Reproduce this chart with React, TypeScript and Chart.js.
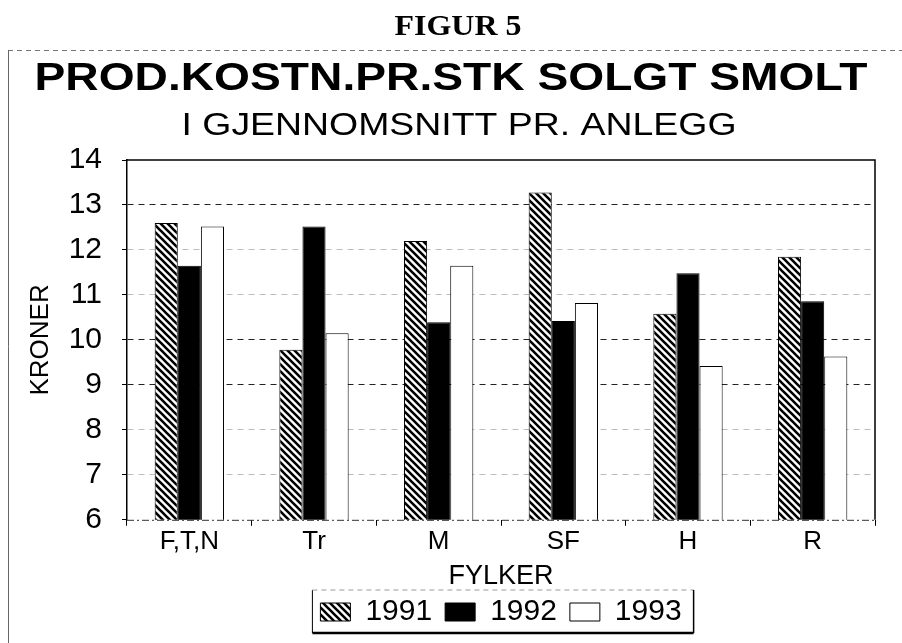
import React, { useEffect, useRef } from "react";
import { Chart, registerables } from "chart.js";

Chart.register(...registerables);

const figureLabel = "FIGUR 5";
const titleText = "PROD.KOSTN.PR.STK SOLGT SMOLT";
const subtitleText = "I GJENNOMSNITT PR. ANLEGG";
const yAxisTitle = "KRONER";
const xAxisTitle = "FYLKER";

const categories = ["F,T,N", "Tr", "M", "SF", "H", "R"];
const seriesNames = ["1991", "1992", "1993"];
const values1991 = [12.6, 9.78, 12.2, 13.28, 10.58, 11.85];
const values1992 = [11.65, 12.52, 10.39, 10.42, 11.48, 10.86];
const values1993 = [12.52, 10.15, 11.65, 10.82, 9.42, 9.63];
const yMin = 6;
const yMax = 14;
const strongGrid = [13, 10, 9];

function makeHatch(): CanvasPattern | string {
  const c = document.createElement("canvas");
  const s = 7;
  c.width = s;
  c.height = s;
  const g = c.getContext("2d");
  if (!g) return "#888";
  g.fillStyle = "#fff";
  g.fillRect(0, 0, s, s);
  g.strokeStyle = "#000";
  g.lineWidth = 2.6;
  g.beginPath();
  g.moveTo(-2, -2);
  g.lineTo(s + 2, s + 2);
  g.moveTo(-2, s - 2);
  g.lineTo(2, s + 2);
  g.moveTo(s - 2, -2);
  g.lineTo(s + 2, 2);
  g.stroke();
  const p = g.createPattern(c, "repeat");
  return p || "#888";
}

const FONT = "'Liberation Sans', Arial, sans-serif";

function stretchedText(ctx: any, text: string, font: string, cx: number, cy: number, targetWidth: number) {
  ctx.save();
  ctx.font = font;
  const w = ctx.measureText(text).width;
  const sx = w > 0 ? targetWidth / w : 1;
  ctx.translate(cx, cy);
  ctx.scale(sx, 1);
  ctx.textAlign = "center";
  ctx.textBaseline = "middle";
  ctx.fillStyle = "#000";
  ctx.fillText(text, 0, 0);
  ctx.restore();
}

export default function App() {
  const ref = useRef<HTMLCanvasElement | null>(null);

  useEffect(() => {
    if (!ref.current) return;
    const hatch = makeHatch();

    const decor = {
      id: "decor",
      afterLayout(chart: any) {
        const lg = chart.legend;
        if (lg) {
          lg.top -= 6;
          lg.bottom -= 6;
        }
      },
      beforeDraw(chart: any) {
        const ctx = chart.ctx;
        ctx.save();
        ctx.fillStyle = "#fff";
        ctx.fillRect(0, 0, chart.width, chart.height);
        ctx.strokeStyle = "#777";
        ctx.lineWidth = 1;
        ctx.setLineDash([5, 4]);
        ctx.beginPath();
        ctx.moveTo(8, 50.5);
        ctx.lineTo(chart.width, 50.5);
        ctx.stroke();
        ctx.setLineDash([]);
        ctx.strokeStyle = "#666";
        ctx.beginPath();
        ctx.moveTo(8.5, 50);
        ctx.lineTo(8.5, chart.height);
        ctx.stroke();
        ctx.restore();
        stretchedText(ctx, figureLabel, "bold 30px 'Liberation Serif', 'Times New Roman', serif", 458, 27, 127);
        stretchedText(ctx, titleText, `bold 38px ${FONT}`, 451, 80, 833);
        stretchedText(ctx, subtitleText, `31px ${FONT}`, 459, 126, 555);
      },
      afterDatasetsDraw(chart: any) {
        const ctx = chart.ctx;
        const a = chart.chartArea;
        ctx.save();
        ctx.strokeStyle = "#000";
        ctx.lineWidth = 1.5;
        ctx.beginPath();
        ctx.moveTo(a.left, a.top);
        ctx.lineTo(a.right, a.top);
        ctx.lineTo(a.right, a.bottom);
        ctx.stroke();
        // dashed baseline (x axis)
        ctx.strokeStyle = "#333";
        ctx.lineWidth = 1;
        ctx.setLineDash([7, 3, 2, 3]);
        ctx.beginPath();
        ctx.moveTo(a.left, a.bottom + 0.5);
        ctx.lineTo(a.right, a.bottom + 0.5);
        ctx.stroke();
        ctx.restore();
      },
      afterDraw(chart: any) {
        const lg = chart.legend;
        if (!lg || !lg.legendHitBoxes || !lg.legendHitBoxes.length) return;
        const hb = lg.legendHitBoxes;
        const first = hb[0];
        const last = hb[hb.length - 1];
        const cy = first.top + first.height / 2;
        const l = first.left - 8;
        const r = last.left + last.width + 12;
        const t = cy - 22;
        const b = cy + 21;
        const ctx = chart.ctx;
        ctx.save();
        ctx.strokeStyle = "#000";
        ctx.lineWidth = 1;
        ctx.beginPath();
        ctx.moveTo(l, b);
        ctx.lineTo(l, t);
        ctx.stroke();
        ctx.strokeStyle = "#999";
        ctx.setLineDash([5, 4]);
        ctx.beginPath();
        ctx.moveTo(l, t);
        ctx.lineTo(r, t);
        ctx.stroke();
        ctx.setLineDash([]);
        ctx.strokeStyle = "#000";
        ctx.lineWidth = 1.5;
        ctx.beginPath();
        ctx.moveTo(r, t);
        ctx.lineTo(r, b);
        ctx.stroke();
        ctx.lineWidth = 2.5;
        ctx.beginPath();
        ctx.moveTo(l, b);
        ctx.lineTo(r, b);
        ctx.stroke();
        ctx.restore();
      },
    };

    const chart = new Chart(ref.current, {
      type: "bar",
      data: {
        labels: categories,
        datasets: [
          {
            label: seriesNames[0],
            data: values1991,
            backgroundColor: hatch as any,
            borderColor: "#000",
            borderWidth: 1,
          },
          {
            label: seriesNames[1],
            data: values1992,
            backgroundColor: "#000",
            borderColor: "#000",
            borderWidth: 1,
          },
          {
            label: seriesNames[2],
            data: values1993,
            backgroundColor: "#fff",
            borderColor: "#000",
            borderWidth: 1,
          },
        ],
      },
      options: {
        animation: false,
        responsive: false,
        maintainAspectRatio: false,
        layout: { padding: { left: 0, right: 27, top: 160, bottom: 0 } },
        datasets: {
          bar: { categoryPercentage: 0.556, barPercentage: 1.0 },
        },
        plugins: {
          title: { display: false },
          subtitle: { display: false },
          legend: {
            display: true,
            position: "bottom",
            fullSize: false,
            labels: {
              color: "#000",
              font: { family: FONT, size: 30 },
              boxWidth: 30,
              boxHeight: 18,
              padding: 13,
            },
          },
          tooltip: { enabled: false },
        },
        scales: {
          x: {
            grid: {
              offset: true,
              drawOnChartArea: false,
              drawTicks: true,
              tickLength: 6,
              color: "#000",
            },
            border: { display: false },
            ticks: {
              color: "#000",
              font: { family: FONT, size: 26 },
              padding: 0,
            },
            title: {
              display: true,
              text: xAxisTitle,
              color: "#000",
              font: { family: FONT, size: 27, lineHeight: 1 },
              padding: { top: 6, bottom: 0 },
            },
          },
          y: {
            min: yMin,
            max: yMax,
            afterFit(scale: any) {
              scale.width = 127;
            },
            grid: {
              drawTicks: true,
              tickLength: 5,
              tickColor: "#000",
              tickBorderDash: [],
              color: (ctx: any) => {
                const v = ctx.tick ? ctx.tick.value : null;
                if (v === yMin || v === yMax) return "rgba(0,0,0,0)";
                return strongGrid.includes(v) ? "#222" : "#bdbdbd";
              },
              lineWidth: 1,
            },
            border: { display: true, color: "#000", width: 1.5, dash: [6, 5] },
            ticks: {
              stepSize: 1,
              color: "#000",
              font: { family: FONT, size: 30 },
              padding: 20,
            },
            title: {
              display: true,
              text: yAxisTitle,
              color: "#000",
              font: { family: FONT, size: 26, lineHeight: 1.2 },
              padding: { top: 25, bottom: 0 },
            },
          },
        },
      },
      plugins: [decor],
    });

    return () => chart.destroy();
  }, []);

  return (
    <div style={{ position: "fixed", left: 0, top: 0, width: 902, height: 643, background: "#fff" }}>
      <canvas ref={ref} width={902} height={643} style={{ display: "block" }} />
    </div>
  );
}
